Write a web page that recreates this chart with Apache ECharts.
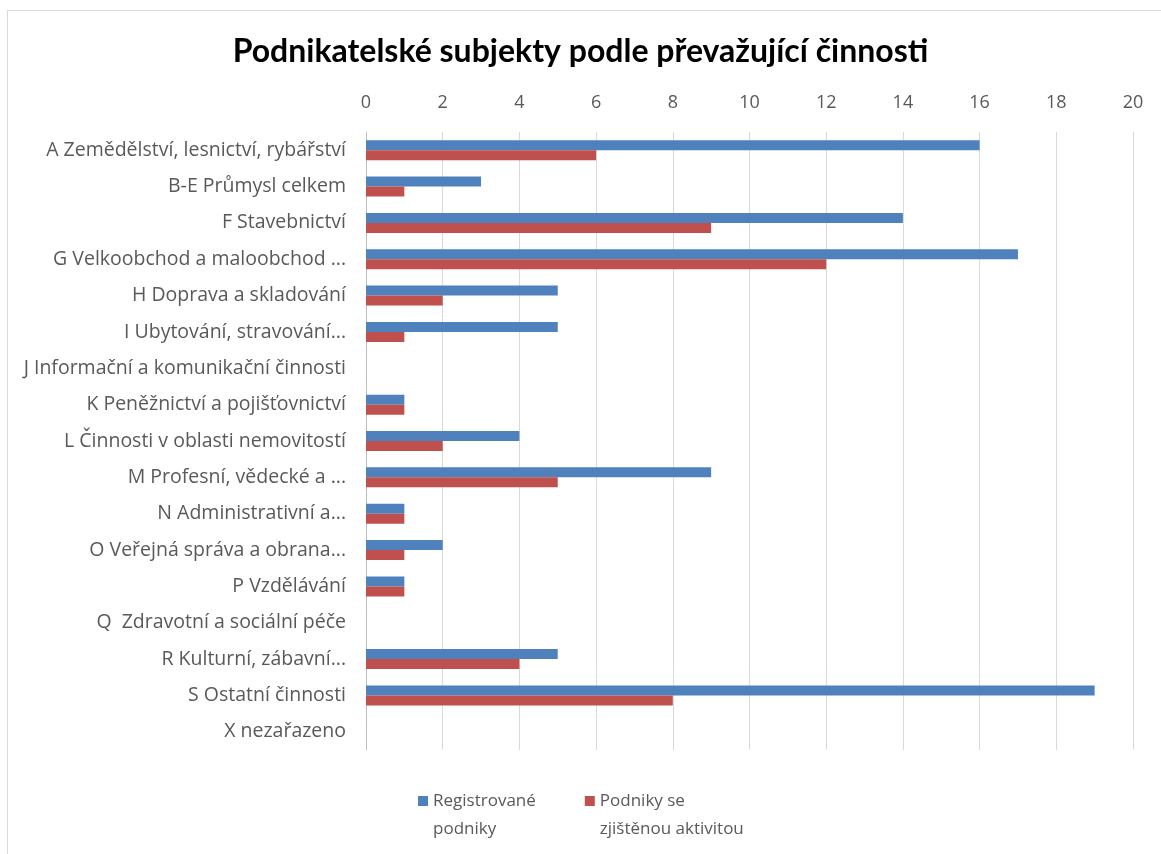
<!DOCTYPE html>
<html>
<head>
<meta charset="utf-8">
<script src="https://cdn.jsdelivr.net/npm/echarts@6/dist/echarts.min.js"></script>
<style>
  html, body { margin: 0; padding: 0; background: #fff; }
  #frame { position: absolute; left: 7px; top: 10px; width: 1170px; height: 860px; border: 1px solid #d9d9d9; }
  #chart { position: absolute; left: 0; top: 0; width: 1161px; height: 854px; }
</style>
</head>
<body>
<div id="frame"></div>
<div id="chart"></div>
<script>
// kategorie (shora dolů)
const categories = [
  "A Zemědělství, lesnictví, rybářství",
  "B-E Průmysl celkem",
  "F Stavebnictví",
  "G Velkoobchod a maloobchod ...",
  "H Doprava a skladování",
  "I Ubytování, stravování...",
  "J Informační a komunikační činnosti",
  "K Peněžnictví a pojišťovnictví",
  "L Činnosti v oblasti nemovitostí",
  "M Profesní, vědecké a ...",
  "N Administrativní a...",
  "O Veřejná správa a obrana...",
  "P Vzdělávání",
  "Q  Zdravotní a sociální péče",
  "R Kulturní, zábavní...",
  "S Ostatní činnosti",
  "X nezařazeno"
];
const registrovane = [16, 3, 14, 17, 5, 5, 0, 1, 4, 9, 1, 2, 1, 0, 5, 19, 0];
const aktivni      = [6, 1, 9, 12, 2, 1, 0, 1, 2, 5, 1, 1, 1, 0, 4, 8, 0];
const xTicks = [0, 2, 4, 6, 8, 10, 12, 14, 16, 18, 20];

const chart = echarts.init(document.getElementById("chart"));
const font = "'Open Sans', sans-serif";

// ctverecek legendy nahore, aby sedel s prvnim radkem textu
const legendIcon = "path://M0,0h10v10h-10z M0,37.99h0.01v0.01h-0.01z";

chart.setOption({
  animation: false,
  title: {
    text: "Podnikatelské subjekty podle převažující činnosti",
    left: "center",
    top: 31,
    textStyle: { fontFamily: "Lato, sans-serif", fontWeight: "bold", fontSize: 32, color: "#000" }
  },
  grid: { left: 366, right: 28, top: 132, bottom: 104, containLabel: false },
  xAxis: {
    type: "value",
    position: "top",
    min: xTicks[0],
    max: xTicks[xTicks.length - 1],
    interval: 2,
    axisLine: { show: false },
    axisTick: { show: false },
    axisLabel: { color: "#595959", fontSize: 18, fontFamily: font, margin: 20 },
    splitLine: { lineStyle: { color: "#d9d9d9", width: 1 } }
  },
  yAxis: {
    type: "category",
    inverse: true,
    data: categories,
    axisLine: { lineStyle: { color: "#bfbfbf" } },
    axisTick: { show: false },
    axisLabel: { color: "#595959", fontSize: 19.5, fontFamily: font, margin: 20 }
  },
  legend: {
    top: 782,
    left: 413,
    itemWidth: 10,
    itemHeight: 38,
    itemGap: 49,
    icon: legendIcon,
    textStyle: { color: "#595959", fontSize: 17, fontFamily: font, lineHeight: 28 },
    formatter: function (name) {
      return name === "Registrované podniky" ? "Registrované\npodniky" : "Podniky se\nzjištěnou aktivitou";
    }
  },
  series: [
    {
      name: "Registrované podniky",
      type: "bar",
      data: registrovane,
      itemStyle: { color: "#4f81bd" },
      barGap: "0%",
      barCategoryGap: "45%"
    },
    {
      name: "Podniky se zjištěnou aktivitou",
      type: "bar",
      data: aktivni,
      itemStyle: { color: "#c0504d" }
    }
  ]
});
</script>
</body>
</html>
